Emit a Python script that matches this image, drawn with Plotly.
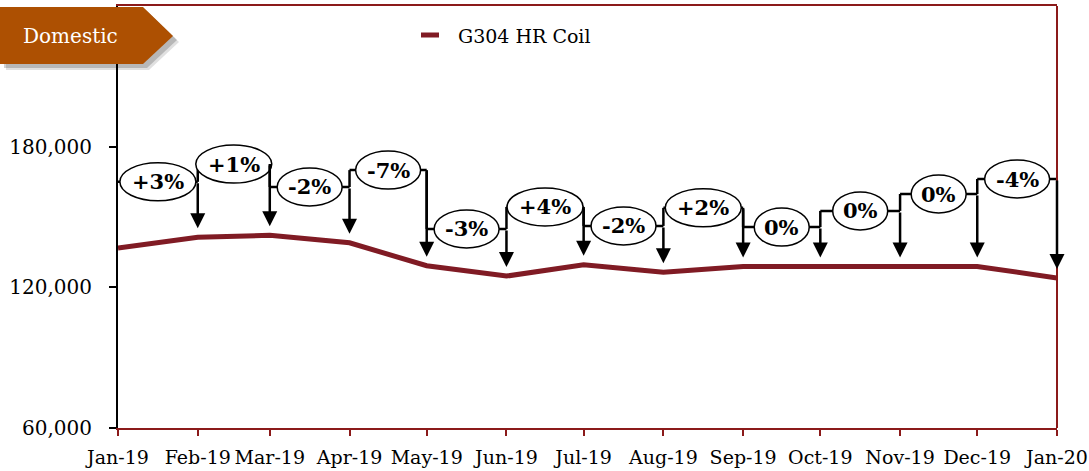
import pandas as pd
import plotly.graph_objects as go

# ---------------- data ----------------
months = ["Jan-19", "Feb-19", "Mar-19", "Apr-19", "May-19", "Jun-19", "Jul-19",
          "Aug-19", "Sep-19", "Oct-19", "Nov-19", "Dec-19", "Jan-20"]
dates = pd.date_range("2019-01-01", "2020-01-01", freq="MS")
hr_coil = [136800, 141400, 142200, 139000, 129200, 124800, 129600,
           126400, 128900, 128900, 128900, 128900, 124000]
changes = ["+3%", "+1%", "-2%", "-7%", "-3%", "+4%", "-2%", "+2%", "0%", "0%", "0%", "-4%"]
y_ticks = [60000, 120000, 180000]
series_name = "G304 HR Coil"
badge_text = "Domestic"

# ---------------- style / layout ----------------
FONT = "Georgia, 'DejaVu Serif', serif"
LINE_RED = "#801B24"
AXIS_RED = "#8B1A1A"
BADGE = "#AD5002"
W, H = 1089, 471
L, R, T, B = 118, 32, 6, 43
PW, PH = W - L - R, H - T - B
# heights (value units) of the change brackets
bracket_levels = [165000, 172600, 162800, 170000, 144900, 154300,
                  146200, 153900, 145700, 152600, 159800, 166200]


def px(xp):
    return (xp - L) / PW


def py(yp):
    return (H - B - yp) / PH


def ell_width(lbl):
    if lbl.startswith("+"):
        return 76
    if lbl.startswith("-"):
        return 65
    return 55


dstr = [d.strftime("%Y-%m-%d") for d in dates]

fig = go.Figure()
fig.add_trace(go.Scatter(x=dstr, y=hr_coil, mode="lines", name=series_name,
                         line=dict(color=LINE_RED, width=5), showlegend=False,
                         hoverinfo="skip"))

shapes = []
annotations = []

for i, lbl in enumerate(changes):
    lev = bracket_levels[i]
    d0, d1 = dates[i], dates[i + 1]
    mid = (d0 + (d1 - d0) / 2).strftime("%Y-%m-%d %H:%M")
    # left leg
    if i > 0:
        shapes.append(dict(type="line", xref="x", yref="y", x0=dstr[i], x1=dstr[i],
                           y0=lev, y1=bracket_levels[i - 1],
                           line=dict(color="black", width=2.5), layer="above"))
    # horizontal
    shapes.append(dict(type="line", xref="x", yref="y", x0=dstr[i], x1=dstr[i + 1],
                       y0=lev, y1=lev, line=dict(color="black", width=2.5), layer="above"))
    # ellipse
    w = ell_width(lbl)
    shapes.append(dict(type="circle", xref="x", yref="y", xsizemode="pixel", ysizemode="pixel",
                       xanchor=mid, yanchor=lev, x0=-w / 2, x1=w / 2, y0=-19, y1=19,
                       fillcolor="white", line=dict(color="black", width=1.5), layer="above"))
    annotations.append(dict(x=mid, y=lev, xref="x", yref="y", text=f"<b>{lbl}</b>",
                            xanchor="center", yanchor="middle",
                            showarrow=False, font=dict(family=FONT, size=21, color="black")))
    # down arrow to the next month
    annotations.append(dict(x=dstr[i + 1], y=hr_coil[i + 1], xref="x", yref="y",
                            ax=dstr[i + 1], ay=lev, axref="x", ayref="y", text="",
                            showarrow=True, arrowhead=2, arrowsize=1.2, arrowwidth=2.5,
                            arrowcolor="black", standoff=9))

# right border
shapes.append(dict(type="line", xref="paper", yref="paper", x0=1, x1=1, y0=0, y1=1,
                   line=dict(color=AXIS_RED, width=2), layer="above"))


# badge (shadow + arrow-shaped box)
def poly(points, dx=0, dy=0):
    return "M " + " L ".join(f"{px(x + dx):.5f},{py(y + dy):.5f}" for x, y in points) + " Z"


badge_pts = [(0, 7), (143, 7), (173, 36), (143, 64), (0, 64)]
shapes.append(dict(type="path", xref="paper", yref="paper", path=poly(badge_pts, 6, 6),
                   fillcolor="rgba(0,0,0,0.12)", line=dict(width=0), layer="above"))
shapes.append(dict(type="path", xref="paper", yref="paper", path=poly(badge_pts, 4, 4),
                   fillcolor="rgba(0,0,0,0.18)", line=dict(width=0), layer="above"))
shapes.append(dict(type="path", xref="paper", yref="paper", path=poly(badge_pts),
                   fillcolor=BADGE, line=dict(width=0), layer="above"))
annotations.append(dict(x=px(70), y=py(36), xref="paper", yref="paper", text=badge_text,
                        xanchor="center", yanchor="middle",
                        showarrow=False, font=dict(family=FONT, size=20, color="white")))

# manual legend
shapes.append(dict(type="line", xref="paper", yref="paper", x0=px(421), x1=px(439),
                   y0=py(35), y1=py(35), line=dict(color=LINE_RED, width=5), layer="above"))
annotations.append(dict(x=px(456), y=py(36), xref="paper", yref="paper", text=series_name,
                        xanchor="left", yanchor="middle", showarrow=False,
                        font=dict(family=FONT, size=19, color="black")))

fig.update_layout(
    width=W, height=H,
    margin=dict(l=L, r=R, t=T, b=B, autoexpand=False),
    paper_bgcolor="white", plot_bgcolor="white",
    font=dict(family=FONT, color="black"),
    shapes=shapes, annotations=annotations,
    showlegend=False,
    xaxis=dict(type="date", range=[dstr[0], dstr[-1]], tickvals=dstr, ticktext=months,
               showgrid=False, zeroline=False, showline=True, linecolor=AXIS_RED, linewidth=2,
               mirror=True, ticks="outside", ticklen=6, tickwidth=2, tickcolor=AXIS_RED,
               ticklabelstandoff=5,
               tickfont=dict(family=FONT, size=19, color="black")),
    yaxis=dict(range=[60000, 240000], tickvals=y_ticks, tickformat=",d",
               showgrid=False, zeroline=False, showline=True, linecolor="black", linewidth=2,
               ticks="outside", ticklen=7, tickwidth=1.5, tickcolor="black",
               ticklabelstandoff=13,
               tickfont=dict(family=FONT, size=20, color="black")),
)

fig.write_html("out.html", config={"displayModeBar": False})

# remove the default page margin so the figure sits at the window origin
with open("out.html", "r", encoding="utf-8") as f:
    html = f.read()
html = html.replace("<head>", "<head><style>html,body{margin:0;padding:0;}</style>", 1)
with open("out.html", "w", encoding="utf-8") as f:
    f.write(html)
